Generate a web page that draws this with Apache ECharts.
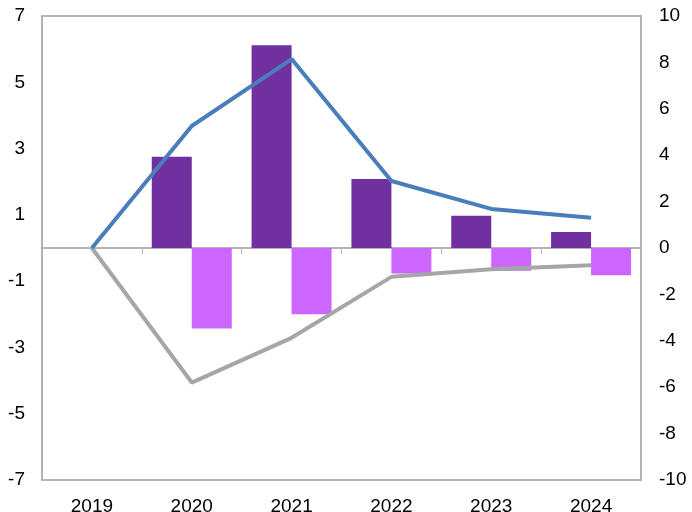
<!DOCTYPE html>
<html><head><meta charset="utf-8">
<script src="https://cdn.jsdelivr.net/npm/echarts@6/dist/echarts.min.js"></script>
<style>html,body{margin:0;padding:0;background:#fff}#c{width:692px;height:512px}</style>
</head><body><div id="c"></div>
<script>
const categories = ['2019','2020','2021','2022','2023','2024'];
const purpleBars = [0, 2.75, 6.12, 2.08, 0.97, 0.48];
const pinkBars = [0, -2.43, -2.0, -0.77, -0.69, -0.82];
const blueLine = [0, 3.68, 5.70, 2.02, 1.18, 0.91];
const grayLine = [0, -4.06, -2.71, -0.87, -0.64, -0.52];
const leftTicks = {min: -7, max: 7, interval: 2};
const rightTicks = {min: -10, max: 10, interval: 2};

const font = {fontFamily: 'Liberation Sans, Arial, sans-serif', fontSize: 19, color: '#000'};
const chart = echarts.init(document.getElementById('c'), null, {renderer: 'canvas'});
chart.setOption({
  animation: false,
  grid: {left: 42, right: 51, top: 16, bottom: 32, containLabel: false, outerBoundsMode: 'none',
         show: true, borderColor: '#b3b3b3', borderWidth: 2, backgroundColor: 'transparent'},
  xAxis: [
    {type: 'category', data: categories, position: 'bottom', axisLine: {show: false, onZero: false},
     axisTick: {show: false}, axisLabel: Object.assign({margin: 17}, font)},
    {type: 'category', data: categories, position: 'bottom',
     axisLine: {show: true, onZero: true, onZeroAxisIndex: 0, lineStyle: {color: '#b3b3b3', width: 2}},
     axisTick: {show: true, length: 6, lineStyle: {color: '#b3b3b3', width: 1}}, axisLabel: {show: false}}
  ],
  yAxis: [
    {type: 'value', min: leftTicks.min, max: leftTicks.max, interval: leftTicks.interval, position: 'left',
     axisLine: {show: false}, axisTick: {show: false}, splitLine: {show: false},
     axisLabel: Object.assign({margin: 17}, font)},
    {type: 'value', min: rightTicks.min, max: rightTicks.max, interval: rightTicks.interval, position: 'right',
     axisLine: {show: false}, axisTick: {show: false}, splitLine: {show: false},
     axisLabel: Object.assign({margin: 18}, font)}
  ],
  series: [
    {type: 'bar', data: purpleBars, xAxisIndex: 0, yAxisIndex: 0, barWidth: 40, barGap: '0%',
     itemStyle: {color: '#7030A0'}},
    {type: 'bar', data: pinkBars, xAxisIndex: 0, yAxisIndex: 0, barWidth: 40, barGap: '0%',
     itemStyle: {color: '#CC66FF'}},
    {type: 'line', data: grayLine, xAxisIndex: 0, yAxisIndex: 0, symbol: 'none',
     lineStyle: {color: '#A6A6A6', width: 4}},
    {type: 'line', data: blueLine, xAxisIndex: 0, yAxisIndex: 0, symbol: 'none',
     lineStyle: {color: '#4A7EBB', width: 4}}
  ]
});
</script></body></html>
